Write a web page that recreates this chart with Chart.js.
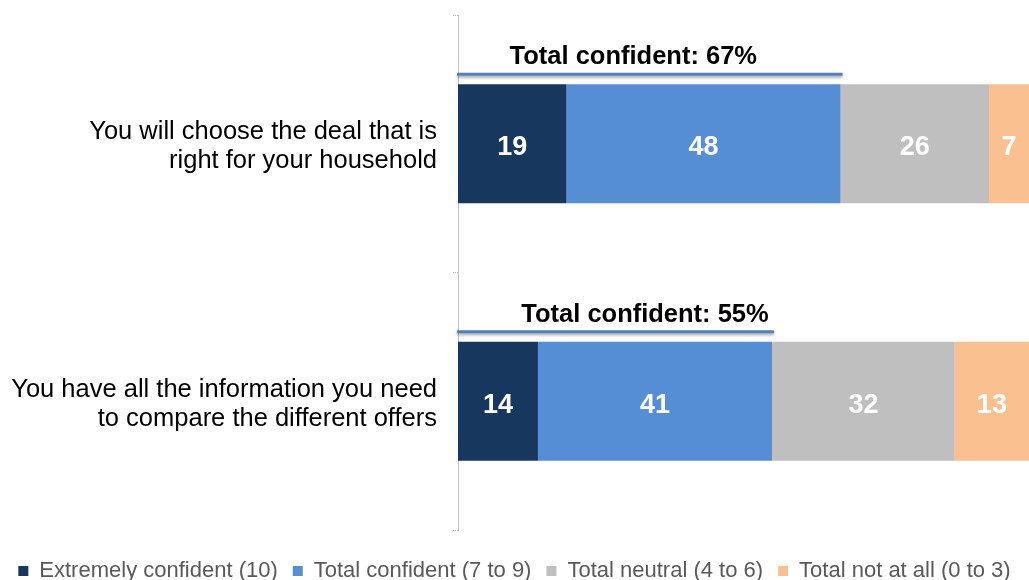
<!DOCTYPE html>
<html>
<head>
<meta charset="utf-8">
<script src="https://cdn.jsdelivr.net/npm/chart.js@4.4.1/dist/chart.umd.min.js"></script>
<style>
  html, body { margin: 0; padding: 0; background: #ffffff; }
  #wrap { width: 1029px; height: 580px; position: relative; }
</style>
</head>
<body>
<div id="wrap"><canvas id="chart"></canvas></div>
<script>
// Survey statements (one row each)
const categories = [
  ["You will choose the deal that is", "right for your household"],
  ["You have all the information you need", "to compare the different offers"]
];

// Response groups, in stacking order
const seriesNames = [
  "Extremely confident (10)",
  "Total confident (7 to 9)",
  "Total neutral (4 to 6)",
  "Total not at all (0 to 3)"
];

// Percentages per row
const extremelyConfident = [19, 14];
const totalConfident = [48, 41];
const totalNeutral = [26, 32];
const totalNotAtAll = [7, 13];

const seriesColors = ["#17375e", "#558ed5", "#bfbfbf", "#fac090"];
const seriesValues = [extremelyConfident, totalConfident, totalNeutral, totalNotAtAll];

// Headline figure above each bar: extremely + other confident
const confidentTotals = extremelyConfident.map((v, i) => v + totalConfident[i]);

const FONT = "Arial, 'Liberation Sans', sans-serif";

// White value labels centred in each segment
const segmentLabels = {
  id: "segmentLabels",
  afterDatasetsDraw(chart) {
    const ctx = chart.ctx;
    ctx.save();
    ctx.fillStyle = "#ffffff";
    ctx.font = "bold 27px " + FONT;
    ctx.textAlign = "center";
    ctx.textBaseline = "middle";
    chart.data.datasets.forEach((ds, di) => {
      const meta = chart.getDatasetMeta(di);
      meta.data.forEach((bar, i) => {
        const p = bar.getProps(["x", "base", "y"], true);
        const cx = (p.x + p.base) / 2;
        ctx.fillText(String(ds.data[i]), cx, p.y + 4);
      });
    });
    ctx.restore();
  }
};

// "Total confident" bracket line and caption over each bar
const confidentHeadline = {
  id: "confidentHeadline",
  afterDatasetsDraw(chart, args, opts) {
    const ctx = chart.ctx;
    const xs = chart.scales.x;
    const meta = chart.getDatasetMeta(0);
    ctx.save();
    confidentTotals.forEach((total, i) => {
      const bar = meta.data[i];
      const top = bar.y - bar.height / 2;
      const lineY = top - 10;
      const x0 = chart.chartArea.left - 1;
      const x1 = xs.getPixelForValue(total) + 2;

      ctx.save();
      ctx.shadowColor = "rgba(0,0,0,0.35)";
      ctx.shadowBlur = 3;
      ctx.shadowOffsetY = 2;
      ctx.strokeStyle = "#4f81bd";
      ctx.lineWidth = 3;
      ctx.beginPath();
      ctx.moveTo(x0, lineY);
      ctx.lineTo(x1, lineY);
      ctx.stroke();
      ctx.restore();

      ctx.fillStyle = "#000000";
      ctx.font = "bold 25.5px " + FONT;
      ctx.textAlign = "center";
      ctx.textBaseline = "alphabetic";
      const cx = xs.getPixelForValue(opts.captionCenters[i]);
      ctx.fillText("Total confident: " + total + "%", cx, lineY - 10);
    });
    ctx.restore();
  }
};

new Chart(document.getElementById("chart"), {
  type: "bar",
  data: {
    labels: categories,
    datasets: seriesNames.map((name, k) => ({
      label: name,
      data: seriesValues[k],
      backgroundColor: seriesColors[k],
      borderWidth: 0,
      categoryPercentage: 0.462,
      barPercentage: 1
    }))
  },
  options: {
    indexAxis: "y",
    responsive: true,
    maintainAspectRatio: false,
    animation: false,
    layout: { padding: { top: 15, bottom: -12, left: 0, right: 0 } },
    scales: {
      x: {
        stacked: true,
        min: 0,
        max: 100,
        display: true,
        ticks: { display: false },
        grid: { display: false },
        border: { display: false },
        afterFit(scale) { scale.height = 15; }
      },
      y: {
        stacked: true,
        grid: {
          drawOnChartArea: false,
          drawTicks: true,
          tickLength: 5,
          color: "#bfbfbf",
          tickBorderDash: [1, 1],
          offset: true
        },
        border: { display: true, color: "#bfbfbf", dash: [1, 1], width: 1 },
        ticks: {
          color: "#000000",
          font: { family: FONT, size: 25.5, lineHeight: 1.13 },
          padding: 16,
          labelOffset: 3,
          crossAlign: "near"
        },
        afterFit(scale) {
          scale.width = 458;
          // labels sit mid-band, so no extra room is needed above or below
          scale.paddingTop = 0;
          scale.paddingBottom = 0;
        }
      }
    },
    plugins: {
      legend: {
        position: "bottom",
        labels: {
          boxWidth: 10,
          boxHeight: 10,
          padding: 15,
          color: "#595959",
          font: { family: FONT, size: 22 }
        }
      },
      tooltip: { enabled: false },
      confidentHeadline: { captionCenters: [30.7, 32.75] }
    }
  },
  plugins: [segmentLabels, confidentHeadline]
});
</script>
</body>
</html>
